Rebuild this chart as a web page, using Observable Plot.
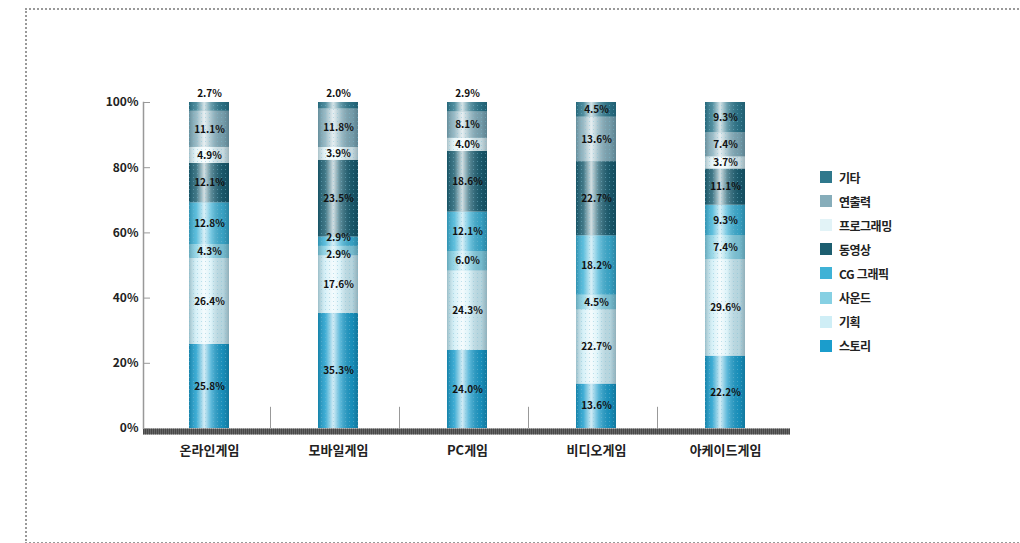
<!DOCTYPE html>
<html lang="ko">
<head>
<meta charset="utf-8">
<script src="https://cdn.jsdelivr.net/npm/d3@7"></script>
<script src="https://cdn.jsdelivr.net/npm/@observablehq/plot@0.6"></script>
<style>
  html, body { margin: 0; padding: 0; background: #fff; }
  body { width: 1020px; height: 543px; position: relative; overflow: hidden;
         font-family: "Noto Sans CJK KR", "Noto Sans", sans-serif; }
  #frame { position: absolute; left: 25px; top: 8px; width: 1100px; height: 532px;
           border-left: 2px dotted #999; border-top: 2px dotted #999; border-bottom: 2px dotted #999; }
  #chart { position: absolute; left: 0; top: 0; }
  #legend { position: absolute; left: 820px; top: 165px; }
  .li { display: flex; align-items: center; height: 24.1px; font-size: 12px; font-weight: 700;
        color: #222; letter-spacing: -0.5px; }
  .sw { width: 12px; height: 12px; margin-right: 7px; }
</style>
</head>
<body>
<div id="frame"></div>
<div id="chart"></div>
<div id="legend"></div>
<script>
// ---- data ----
const categories = ["온라인게임", "모바일게임", "PC게임", "비디오게임", "아케이드게임"];
const seriesNames = ["스토리", "기획", "사운드", "CG 그래픽", "동영상", "프로그래밍", "연출력", "기타"]; // bottom -> top
const story       = [25.8, 35.3, 24.0, 13.6, 22.2];
const planning    = [26.4, 17.6, 24.3, 22.7, 29.6];
const sound       = [4.3, 2.9, 6.0, 4.5, 7.4];
const cgGraphic   = [12.8, 2.9, 12.1, 18.2, 9.3];
const videoClip   = [12.1, 23.5, 18.6, 22.7, 11.1];
const programming = [4.9, 3.9, 4.0, 0, 3.7];
const directing   = [11.1, 11.8, 8.1, 13.6, 7.4];
const etc         = [2.7, 2.0, 2.9, 4.5, 9.3];
const yTicks = [0, 0.2, 0.4, 0.6, 0.8, 1.0];

const seriesValues = [story, planning, sound, cgGraphic, videoClip, programming, directing, etc];
const colors = ["#1b9dcc", "#cfeef6", "#86d0e3", "#3fb2d6", "#1d5e70", "#e2f3f7", "#86adba", "#2f788c"];

const table = [];
seriesNames.forEach((s, si) => {
  categories.forEach((c, ci) => {
    table.push({category: c, series: s, value: seriesValues[si][ci]});
  });
});

const stackOpts = {x: "category", y: "value", z: "series", order: seriesNames, offset: "normalize"};
const isTop = d => d.series === "기타" && d.value < 4;
const isLowSmall = d => d.series === "사운드" && d.value < 3.5;
const isHighSmall = d => d.series === "CG 그래픽" && d.value < 3.5;
const isNormal = d => d.value > 0 && !isTop(d) && !isLowSmall(d) && !isHighSmall(d);
const fmt = v => v.toFixed(1) + "%";
const labelStyle = {fontSize: 10, fontWeight: 700, fill: "#111", letterSpacing: -0.6};

const plot = Plot.plot({
  width: 1020,
  height: 543,
  marginLeft: 143,
  marginRight: 230,
  marginTop: 102,
  marginBottom: 115,
  style: {fontFamily: "'Noto Sans CJK KR', sans-serif", background: "transparent", overflow: "visible"},
  x: {domain: categories, paddingInner: 0.69, paddingOuter: 0.345, label: null},
  y: {domain: [0, 1], label: null},
  color: {domain: seriesNames, range: colors},
  marks: [
    Plot.frame({anchor: "left", stroke: "#999", strokeDasharray: "2,1", strokeWidth: 1.5}),
    Plot.barY(table, Plot.stackY({...stackOpts, fill: "series"})),
    Plot.barY(table, Plot.stackY({...stackOpts, fill: "url(#cyl)"})),
    Plot.barY(table, Plot.stackY({...stackOpts, fill: "url(#dots)"})),
    Plot.text(table, Plot.stackY({...stackOpts, text: d => isNormal(d) ? fmt(d.value) : "", ...labelStyle})),
    Plot.text(table, Plot.stackY({...stackOpts, text: d => isLowSmall(d) ? fmt(d.value) : "", dy: 4, ...labelStyle})),
    Plot.text(table, Plot.stackY({...stackOpts, text: d => isHighSmall(d) ? fmt(d.value) : "", dy: -4, ...labelStyle})),
    Plot.text(table, Plot.stackY2({...stackOpts, text: d => isTop(d) ? fmt(d.value) : "", dy: -9, ...labelStyle})),
    Plot.ruleX(categories.slice(0, -1), {x: d => d, dx: 61, y1: 0, y2: 0.065, stroke: "#999", strokeWidth: 1}),
    Plot.ruleY([0], {stroke: "#666", strokeWidth: 6, dy: 3}),
    Plot.ruleY([0], {stroke: "#333", strokeWidth: 6, dy: 3, strokeDasharray: "1,1", strokeOpacity: 0.6}),
    Plot.axisY({ticks: yTicks, tickFormat: d3.format(".0%"), tickSize: -7, tickPadding: 12,
      stroke: "#999", fontSize: 12, fontWeight: 700, fill: "#222", letterSpacing: -1}),
    Plot.axisX({tickSize: 0, tickPadding: 17, fontSize: 13, fontWeight: 700, fill: "#222", letterSpacing: -0.5})
  ]
});

// gradient + dot pattern definitions for the cylindrical bar look
const ns = "http://www.w3.org/2000/svg";
const defs = document.createElementNS(ns, "defs");
defs.innerHTML = `
  <linearGradient id="cyl" x1="0" x2="1" y1="0" y2="0">
    <stop offset="0" stop-color="#003040" stop-opacity="0.25"/>
    <stop offset="0.18" stop-color="#ffffff" stop-opacity="0.15"/>
    <stop offset="0.38" stop-color="#ffffff" stop-opacity="0.8"/>
    <stop offset="0.55" stop-color="#ffffff" stop-opacity="0.3"/>
    <stop offset="0.85" stop-color="#002030" stop-opacity="0.12"/>
    <stop offset="1" stop-color="#002030" stop-opacity="0.3"/>
  </linearGradient>
  <pattern id="dots" width="4" height="4" patternUnits="userSpaceOnUse">
    <rect x="1" y="1" width="1" height="1" fill="#7fbfd6" fill-opacity="0.45"/>
  </pattern>`;
plot.insertBefore(defs, plot.firstChild);
document.getElementById("chart").appendChild(plot);

// legend (top -> bottom is reverse of stack order)
const legend = document.getElementById("legend");
seriesNames.slice().reverse().forEach(s => {
  const i = seriesNames.indexOf(s);
  const row = document.createElement("div");
  row.className = "li";
  row.innerHTML = `<span class="sw" style="background:${colors[i]}"></span><span>${s}</span>`;
  legend.appendChild(row);
});
</script>
</body>
</html>
